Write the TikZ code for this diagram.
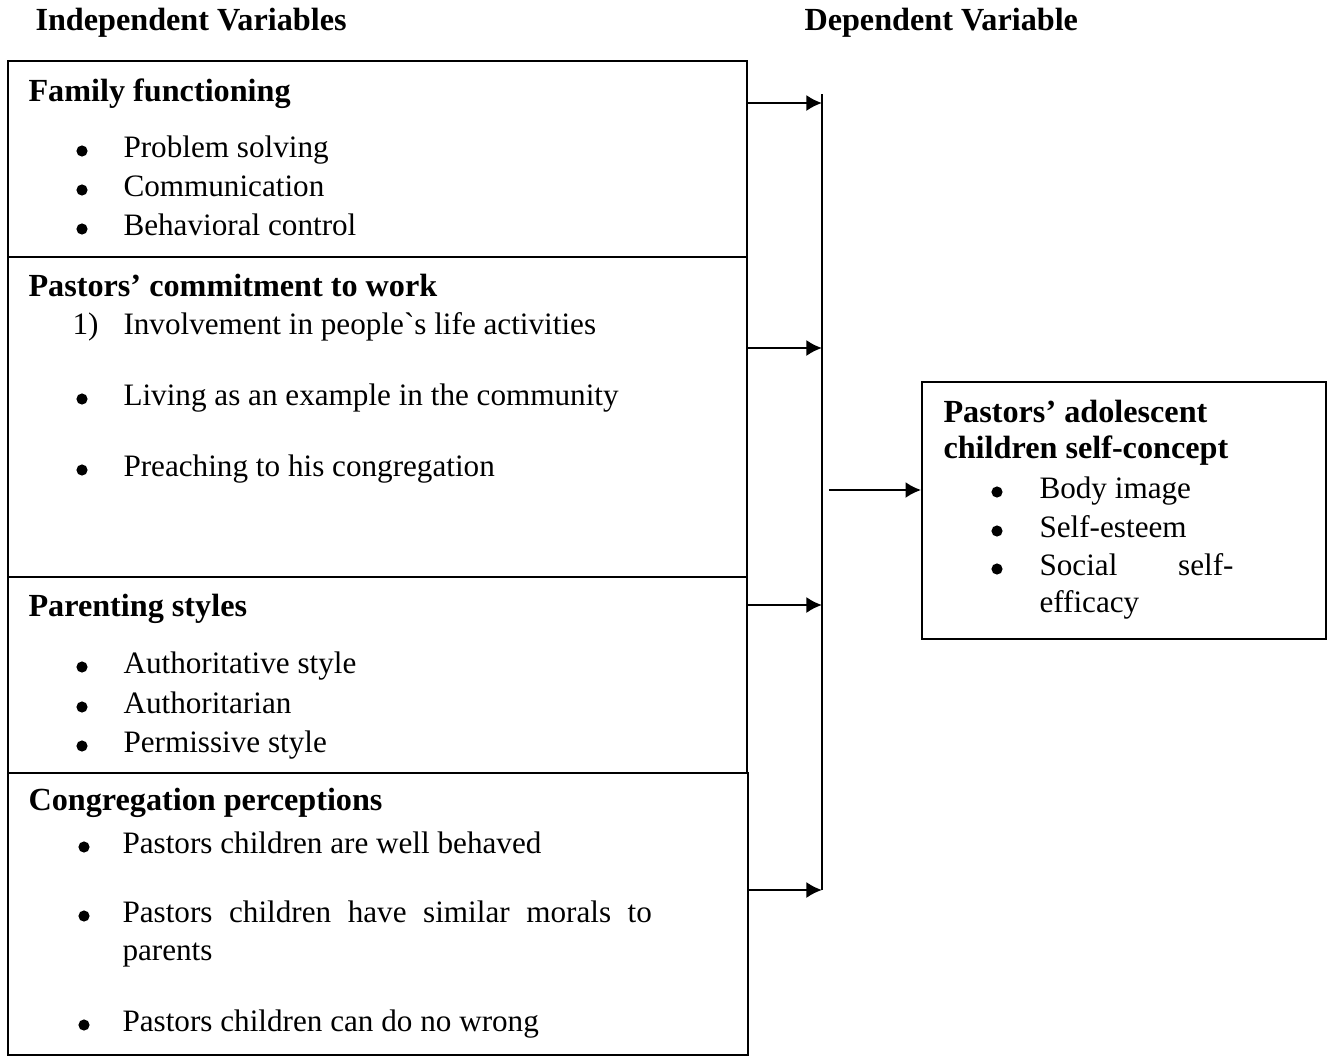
\documentclass[tikz,border=0pt]{standalone}
\usepackage{fontspec}
\setmainfont{Liberation Serif}
\usepackage{tikz}
\usetikzlibrary{arrows.meta, positioning, fit}

\begin{document}
\begin{tikzpicture}[x=0.385pt, y=-0.385pt,
    box/.style={draw=black, line width=0.7pt, inner sep=0pt},
    hd/.style={font=\fontsize{12.4}{14}\selectfont\bfseries, anchor=base west, inner sep=0pt},
    item/.style={font=\fontsize{12}{14}\selectfont, anchor=base west, inner sep=0pt},
    bul/.style={circle, fill=black, inner sep=0pt, minimum size=4.3pt},
    arr/.style={-{Latex[length=6pt, width=6.2pt]}, line width=0.9pt}]
  \useasboundingbox (0,0) rectangle (1327,1057);
  % headings
  \node[hd] (iv) at (35,30) {Independent Variables};
  \node[hd] (dv) at (804,30) {Dependent Variable};
  % boxes
  \node[box, fit={(8,61) (747,257)}] (ff) {};
  \node[box, fit={(8,257) (747,577)}] (pc) {};
  \node[box, fit={(8,577) (747,773)}] (ps) {};
  \node[box, fit={(8,773) (748,1055)}] (cp) {};
  \node[box, fit={(922,382) (1326,639)}] (sc) {};
  % family functioning
  \node[hd] (ff-t) at (28,101) {Family functioning};
  \foreach \t/\y [count=\i] in {Problem solving/157, Communication/196, Behavioral control/235} {
    \node[bul] (ff-b\i) at (82,\y-6) {};
    \node[item] (ff-\i) at (123,\y) {\t};
  }
  % commitment
  \node[hd] (pc-t) at (28,296) {Pastors' commitment to work};
  \node[item] (pc-n) at (72,334) {1)};
  \node[item] (pc-1) at (123,334) {Involvement in people\textasciigrave s life activities};
  \foreach \t/\y [count=\i from 2] in {Living as an example in the community/405, Preaching to his congregation/476} {
    \node[bul] (pc-b\i) at (82,\y-6) {};
    \node[item] (pc-\i) at (123,\y) {\t};
  }
  % parenting
  \node[hd] (ps-t) at (28,616) {Parenting styles};
  \foreach \t/\y [count=\i] in {Authoritative style/673, Authoritarian/713, Permissive style/752} {
    \node[bul] (ps-b\i) at (82,\y-6) {};
    \node[item] (ps-\i) at (123,\y) {\t};
  }
  % congregation
  \node[hd] (cp-t) at (28,810) {Congregation perceptions};
  \foreach \y [count=\i] in {853, 922, 1031}
    \node[bul] (cp-b\i) at (84,\y-6) {};
  \node[item] (cp-1) at (122,853) {Pastors children are well behaved};
  \node[item] (cp-2) at (122,922) {\makebox[203.8pt][s]{Pastors children have similar morals to}};
  \node[item] (cp-2b) at (122,960) {parents};
  \node[item] (cp-3) at (122,1031) {Pastors children can do no wrong};
  % self-concept
  \node[hd] (sc-t1) at (943,422) {Pastors' adolescent};
  \node[hd] (sc-t2) at (943,458) {children self-concept};
  \foreach \y [count=\i] in {498, 537, 575}
    \node[bul] (sc-b\i) at (997,\y-6) {};
  \node[item] (sc-1) at (1039,498) {Body image};
  \node[item] (sc-2) at (1039,537) {Self-esteem};
  \node[item] (sc-3) at (1039,575) {\makebox[74.7pt][s]{Social self-}};
  \node[item] (sc-3b) at (1039,612) {efficacy};
  % arrows
  \coordinate (top) at (822,94);
  \foreach \n/\y in {ff/103, pc/348, ps/605, cp/890} {
    \coordinate (bus-\n) at (822,\y);
    \draw[arr] (\n.east |- bus-\n) -- (bus-\n);
  }
  \draw[line width=0.9pt] (top) -- (bus-cp);
  \coordinate (out) at (829,490);
  \draw[arr] (out) -- (sc.west |- out);
\end{tikzpicture}
\end{document}
